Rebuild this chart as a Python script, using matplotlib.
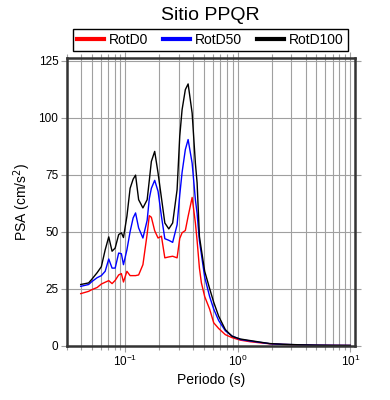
import matplotlib
matplotlib.use("Agg")
import matplotlib.pyplot as plt
from matplotlib.ticker import LogLocator, NullFormatter

plt.rcParams['font.family'] = ['Liberation Sans', 'DejaVu Sans']

# Periodos (s) y espectros de respuesta (cm/s^2)
periodos = [0.040, 0.047, 0.050, 0.056, 0.061, 0.066, 0.071, 0.076, 0.081, 0.087,
            0.092, 0.096, 0.103, 0.110, 0.117, 0.123, 0.131, 0.143, 0.156, 0.163,
            0.170, 0.182, 0.195, 0.209, 0.224, 0.243, 0.263, 0.288, 0.304, 0.319,
            0.341, 0.361, 0.392, 0.419, 0.434, 0.455, 0.474, 0.507, 0.561, 0.610,
            0.675, 0.774, 0.888, 1.05, 1.29, 1.59, 1.92, 2.5, 3.6, 5.0, 7.0, 10.0]

rotd0 = [22.8, 23.8, 24.5, 25.5, 27.0, 27.8, 28.5, 27.2, 28.6, 31.0,
         31.6, 27.9, 32.6, 30.7, 30.7, 30.7, 31.0, 35.5, 49.0, 57.0,
         56.3, 50.4, 47.2, 48.0, 38.5, 38.9, 39.2, 38.5, 47.0, 49.5,
         50.5, 56.7, 65.0, 53.8, 46.0, 34.0, 27.5, 21.5, 16.0, 10.0,
         7.5, 4.8, 3.5, 2.4, 1.7, 1.2, 0.8, 0.5, 0.28, 0.15, 0.10, 0.06]

rotd50 = [26.0, 26.8, 28.0, 29.8, 30.7, 32.6, 38.0, 34.0, 34.0, 40.6,
          40.3, 35.5, 42.0, 50.0, 56.0, 58.2, 51.6, 47.2, 55.0, 64.5,
          69.0, 72.5, 67.7, 56.7, 46.9, 46.2, 45.3, 53.0, 66.0, 76.0,
          86.0, 90.4, 80.0, 64.0, 58.0, 46.0, 40.0, 30.0, 21.5, 16.0,
          11.0, 6.5, 4.2, 2.7, 2.0, 1.4, 0.85, 0.55, 0.32, 0.18, 0.11, 0.07]

rotd100 = [26.8, 27.5, 29.0, 32.0, 34.6, 42.0, 47.7, 41.4, 42.8, 48.7,
           49.5, 47.4, 56.7, 69.0, 73.0, 74.8, 64.0, 60.4, 64.0, 72.5,
           80.8, 85.2, 75.7, 64.8, 53.8, 51.2, 53.8, 68.4, 91.8, 103.5,
           112.3, 114.8, 102.0, 80.0, 71.4, 47.9, 42.0, 32.6, 25.0, 19.0,
           12.9, 7.0, 4.1, 2.9, 2.2, 1.5, 0.9, 0.6, 0.35, 0.2, 0.12, 0.08]

fig = plt.figure(figsize=(3.9, 4.0), dpi=100)
ax = fig.add_axes([0.171, 0.136, 0.739, 0.718])

ax.plot(periodos, rotd0, color='red', lw=1.0, label='RotD0')
ax.plot(periodos, rotd50, color='blue', lw=1.0, label='RotD50')
ax.plot(periodos, rotd100, color='black', lw=1.0, label='RotD100')

ax.set_xscale('log')
ax.set_xlim(0.03, 11)
ax.set_ylim(0, 126)
ax.set_yticks([0, 25, 50, 75, 100, 125])
ax.xaxis.set_minor_locator(LogLocator(base=10, subs=range(2, 10)))
ax.xaxis.set_minor_formatter(NullFormatter())

# Rejilla y marcas
ax.grid(True, which='major', color='#a0a0a0', lw=0.8)
ax.grid(True, which='minor', axis='x', color='#a0a0a0', lw=0.8)
ax.tick_params(which='both', direction='out', color='#a0a0a0', labelsize=8.5,
               top=True, right=True, pad=2)
ax.tick_params(which='major', length=4, width=0.8)
ax.tick_params(which='minor', length=3, width=0.8)
for s in ax.spines.values():
    s.set_color('#333333')
    s.set_linewidth(1.8)

ax.set_xlabel('Periodo (s)', fontsize=10, labelpad=3)
ax.set_ylabel('PSA (cm/s$^2$)', fontsize=10, labelpad=4)
fig.text(0.54, 0.962, 'Sitio PPQR', ha='center', va='center', fontsize=14)

leg = fig.legend(loc='lower left', bbox_to_anchor=(73 / 390, 1 - 51 / 400, 275 / 390, 22 / 400),
                 mode='expand', ncol=3, fontsize=10,
                 fancybox=False, edgecolor='black', framealpha=1,
                 handlelength=1.9, handletextpad=0.4, columnspacing=0.8,
                 borderpad=0.3, borderaxespad=0)
leg.get_frame().set_linewidth(1.0)
for l in leg.get_lines():
    l.set_linewidth(3)

fig.savefig('out.png', dpi=100)
